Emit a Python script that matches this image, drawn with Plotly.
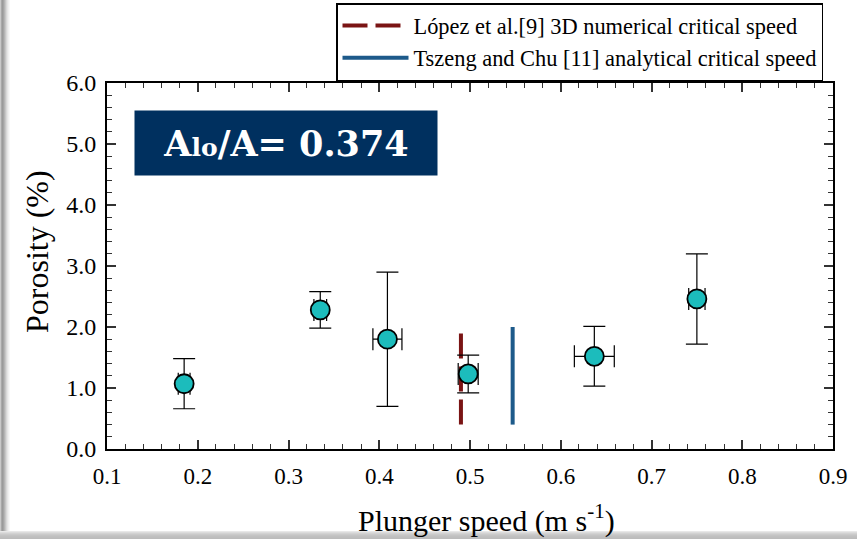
import plotly.graph_objects as go

# Data
speed = [0.185, 0.335, 0.409, 0.498, 0.637, 0.750]
porosity = [1.07, 2.28, 1.80, 1.23, 1.52, 2.46]
por_err = [0.41, 0.30, 1.10, 0.31, 0.49, 0.74]
speed_err = [0.0065, 0.007, 0.016, 0.011, 0.022, 0.009]

lopez_x = [0.490, 0.490]
lopez_y = [0.4, 2.0]
tszeng_x = [0.547, 0.547]
tszeng_y = [0.4, 2.0]

xticks = [0.1, 0.2, 0.3, 0.4, 0.5, 0.6, 0.7, 0.8, 0.9]
yticks = [0.0, 1.0, 2.0, 3.0, 4.0, 5.0, 6.0]

SERIF = "Liberation Serif"

fig = go.Figure()

fig.add_trace(go.Scatter(
    x=lopez_x, y=lopez_y, mode="lines",
    line=dict(color="#7a1414", width=4, dash="25px,8px"),
    name="López et al.[9] 3D numerical critical speed",
))
fig.add_trace(go.Scatter(
    x=tszeng_x, y=tszeng_y, mode="lines",
    line=dict(color="#1d5a8a", width=4),
    name="Tszeng and Chu [11] analytical critical speed",
))
fig.add_trace(go.Scatter(
    x=speed, y=porosity, mode="markers",
    marker=dict(size=19, color="#1cbcbc", line=dict(color="black", width=1.8)),
    error_y=dict(type="data", array=por_err, color="black", thickness=1.2, width=11),
    error_x=dict(type="data", array=speed_err, color="black", thickness=1.2, width=11),
    showlegend=False,
))

L, R, T, B = 107, 24, 83, 90
W, H = 857, 539
pw, ph = W - L - R, H - T - B

def px(xp):
    return (xp - L) / pw

def py(yp):
    return (H - B - yp) / ph

shapes = []
grays = ["#c8c8c8", "#a8a8a8", "#9a9a9a", "#a4a4a4", "#b4b4b4", "#c6c6c6", "#d8d8d8", "#e6e6e6", "#f0f0f0", "#f8f8f8"]
for i, g in enumerate(grays):
    shapes.append(dict(type="rect", xref="paper", yref="paper",
                       x0=px(i), x1=px(i + 1), y0=py(H), y1=py(0),
                       fillcolor=g, line=dict(width=0), layer="below"))
bgr = ["#e8e8e8", "#dcdcdc", "#d2d2d2", "#cacaca", "#c4c4c4", "#c0c0c0", "#bebebe", "#bcbcbc"]
for i, g in enumerate(bgr):
    shapes.append(dict(type="rect", xref="paper", yref="paper",
                       x0=px(0), x1=px(W), y0=py(531 + i), y1=py(532 + i),
                       fillcolor=g, line=dict(width=0), layer="below"))

fig.update_layout(
    width=W, height=H,
    margin=dict(l=L, r=R, t=T, b=B, autoexpand=False),
    paper_bgcolor="white", plot_bgcolor="white",
    font=dict(family=SERIF, color="black", size=20),
    shapes=shapes,
    xaxis=dict(
        range=[0.1, 0.9], tickvals=xticks, ticktext=[f"{v:.1f}" for v in xticks],
        ticks="inside", ticklen=9, tickwidth=1.5, tickcolor="#333",
        minor=dict(dtick=0.02, ticks="inside", ticklen=5, tickwidth=1, tickcolor="#333"),
        showline=True, linecolor="black", linewidth=2, mirror="allticks",
        showgrid=False, zeroline=False,
        tickfont=dict(family=SERIF, size=23), ticklabelstandoff=5,
    ),
    yaxis=dict(
        range=[0, 6], tickvals=yticks, ticktext=[f"{v:.1f}" for v in yticks],
        ticks="inside", ticklen=9, tickwidth=1.5, tickcolor="#333",
        minor=dict(dtick=0.2, ticks="inside", ticklen=5, tickwidth=1, tickcolor="#333"),
        showline=True, linecolor="black", linewidth=2, mirror="allticks",
        showgrid=False, zeroline=False,
        tickfont=dict(family=SERIF, size=24), ticklabelstandoff=4,
    ),
    legend=dict(
        x=px(336), y=py(3), xanchor="left", yanchor="top",
        bordercolor="black", borderwidth=1.5, bgcolor="white",
        font=dict(family=SERIF, size=22.4), tracegroupgap=0,
        itemwidth=66,
    ),
    annotations=[
        dict(
            x=px(286), y=py(143), xref="paper", yref="paper",
            xanchor="center", yanchor="middle",
            text="<b>A<span style='font-size:25px'>lo</span>/A= 0.374</b>",
            showarrow=False, bgcolor="#00305f",
            font=dict(family="DejaVu Serif", size=35, color="white"),
            width=296, height=58, align="center", borderpad=3,
        ),
        dict(
            x=px(487), y=py(518), xref="paper", yref="paper",
            xanchor="center", yanchor="middle", showarrow=False,
            text="Plunger speed (m s<sup>-1</sup>)",
            font=dict(family=SERIF, size=30),
        ),
        dict(
            x=px(37), y=py(252), xref="paper", yref="paper",
            xanchor="center", yanchor="middle", showarrow=False,
            text="Porosity (%)", textangle=-90,
            font=dict(family=SERIF, size=32),
        ),
    ],
)

fig.write_html("out.html")
